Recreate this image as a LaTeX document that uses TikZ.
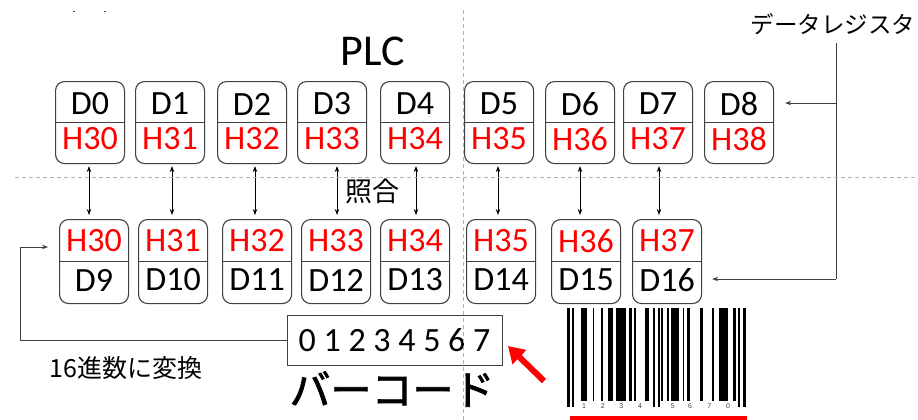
\documentclass[tikz,border=0pt]{standalone}
\usepackage{fontspec}
\setmainfont{Carlito}
\newfontfamily\jpfont{Noto Sans CJK JP}
\newfontfamily\jpheavy[FakeBold=1.8]{Noto Sans CJK JP}
\newfontfamily\barfont{Liberation Sans}
\usetikzlibrary{arrows.meta,calc}
\definecolor{boxgray}{HTML}{404040}
\definecolor{dashgray}{HTML}{B0B0B0}
\tikzset{
  regbox/.style={draw=boxgray, line width=1.1pt, rounded corners=9pt, minimum width=69pt, inner sep=0pt},
  divline/.style={draw=boxgray, line width=1.1pt},
  dtxt/.style={font=\fontsize{34}{34}\selectfont, inner sep=0pt, text=black},
  htxt/.style={font=\fontsize{34}{34}\selectfont, inner sep=0pt, text=red},
  dlink/.style={{Stealth[length=6pt,width=4.5pt]}-{Stealth[length=6pt,width=4.5pt]}, line width=0.8pt},
  onelink/.style={-{Stealth[length=6pt,width=4.5pt]}, line width=0.9pt, draw=boxgray},
  guide/.style={draw=dashgray, line width=0.8pt, dash pattern=on 4pt off 3pt},
  bar/.style={fill=black, draw=none},
}
\newcommand\topreg[4]{%
  \node[regbox, minimum height=82pt, anchor=north west] (#1) at (#2,81) {};
  \draw[divline] (#1.west) -- (#1.east);
  \node[dtxt] (#1d) at (#1.center |- 0,104) {#3};
  \node[htxt] (#1h) at (#1.center |- 0,139) {#4};
}
\newcommand\botreg[4]{%
  \node[regbox, minimum height=84pt, anchor=north west] (#1) at (#2,219) {};
  \draw[divline] (#1.west) -- (#1.east);
  \node[htxt] (#1h) at (#1.center |- 0,241) {#3};
  \node[dtxt] (#1d) at (#1.center |- 0,280) {#4};
}
\begin{document}
\begin{tikzpicture}[x=1pt, y=-1pt]
\useasboundingbox (0,0) rectangle (918,420);

% tiny marks at top left
\fill[black!70] (73,11) rectangle (75,12.5);
\fill[black!70] (104,11) rectangle (106,12.5);

% title
\node[font=\fontsize{44}{44}\selectfont, inner sep=0pt] (plc) at (373,51) {PLC};

% top registers
\topreg{t0}{55}{D0}{H30}
\topreg{t1}{135}{D1}{H31}
\topreg{t2}{217}{D2}{H32}
\topreg{t3}{297}{D3}{H33}
\topreg{t4}{380}{D4}{H34}
\topreg{t5}{464}{D5}{H35}
\topreg{t6}{545}{D6}{H36}
\topreg{t7}{623}{D7}{H37}
\topreg{t8}{704}{D8}{H38}

% bottom registers
\botreg{b0}{59}{H30}{D9}
\botreg{b1}{138}{H31}{D10}
\botreg{b2}{222}{H32}{D11}
\botreg{b3}{301}{H33}{D12}
\botreg{b4}{380}{H34}{D13}
\botreg{b5}{466}{H35}{D14}
\botreg{b6}{551}{H36}{D15}
\botreg{b7}{632}{H37}{D16}

% comparison arrows
\foreach \i/\xx in {0/89,1/172,2/255,3/337,4/416,5/498,6/580,7/659}
  \draw[dlink, shorten <=2pt, shorten >=4pt] (t\i.south -| \xx,0) -- (b\i.north -| \xx,0);

\node[font=\jpfont\fontsize{27}{27}\selectfont, inner sep=0pt] (shogo) at (372,191) {照合};

% data register label and bracket
\node[font=\jpfont\fontsize{23.5}{23.5}\selectfont, inner sep=0pt] (dreg) at (833,24) {データレジスタ};
\coordinate (jt) at (836,43);
\coordinate (j1) at (836,103);
\coordinate (j2) at (836,279);
\draw[line width=0.9pt, draw=boxgray] (jt) -- (j2);
\draw[onelink, shorten >=11pt] (j1) -- (j1 -| t8.east);
\draw[onelink, shorten >=10pt] (j2) -- (j2 -| b7.east);

% number box
\node[draw=boxgray, line width=1pt, minimum width=215pt, minimum height=50pt, inner sep=0pt,
      font=\fontsize{34}{34}\selectfont] (num) at (394.5,340) {0 1 2 3 4 5 6 7};
\node[font=\jpheavy\fontsize{41}{41}\selectfont, inner sep=0pt] (bc) at (392,389) {バーコード};

% conversion connector
\coordinate (lc) at (20,247);
\draw[onelink, shorten >=11pt] (num.west) -| (lc) -- (lc -| b0.west);
\node[font=\jpfont\fontsize{25}{25}\selectfont, inner sep=0pt] (conv) at (126,368) {16進数に変換};

% red arrow pointing at the number box
\coordinate (ra) at (544,381);
\coordinate (rtip) at (508,346);
\draw[red, line width=6pt, -{Triangle[length=16pt,width=19pt]}] (ra) -- (rtip);

% barcode
\foreach \a/\b in {580.7/586.7,592.7/594.3,600.7/602.7,607.7/613.3,615.7/625.7,628.7/631.7,634/636,644.7/649,661/663.3,666.7/668.7,670.7/679,682.7/684.3,687.3/690,700/703.3,712/714,719.3/728,733.3/735.7}
  \fill[bar] (\a,308) rectangle (\b,401);
\foreach \a/\b in {567.3/570,571.7/574,653.3/655.3,657.7/660,738.3/740.3,743.3/745.7}
  \fill[bar] (\a,308) rectangle (\b,406.5);
\foreach \d/\xx in {1/584,2/602.7,3/621.3,4/640,5/672.7,6/690,7/709.3,0/728}
  \node[font=\barfont\fontsize{7}{7}\selectfont, text=black!75, inner sep=0pt] at (\xx,406) {\d};
\fill[red] (570,416) rectangle (747,420);

% guide lines (drawn over everything)
\draw[guide] (15,177) -- (918,177);
\draw[guide] (463,10) -- (463,420);
\end{tikzpicture}
\end{document}
